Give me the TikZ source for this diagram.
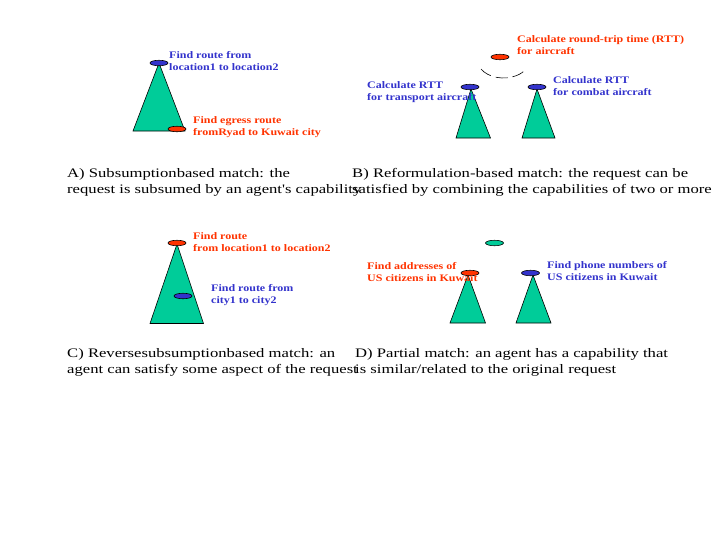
\documentclass[tikz,border=0pt]{standalone}
\usepackage{fontspec}
\setmainfont{Liberation Serif}
\newfontfamily\capfont[FakeStretch=1.28]{Liberation Serif}
\newfontfamily\lblfont[FakeStretch=1.2]{Liberation Serif}
\usetikzlibrary{shapes.geometric}
\definecolor{conegreen}{RGB}{0,204,153}
\definecolor{capblue}{RGB}{51,51,204}
\definecolor{capred}{RGB}{255,51,0}

\begin{document}
\begin{tikzpicture}[
  x=1pt,y=-1pt,
  cone/.style   ={draw=black,fill=conegreen,line width=0.6pt},
  capab/.style  ={ellipse,draw=black,line width=0.6pt,inner sep=0pt,
                  minimum width=18pt,minimum height=5.5pt},
  lbl/.style    ={anchor=west,align=left,inner sep=0pt,
                  font=\lblfont\bfseries\fontsize{10}{12}\selectfont},
  caption/.style={anchor=west,align=left,inner sep=0pt,
                  font=\capfont\fontsize{13}{16}\selectfont}]
  \useasboundingbox (0,0) rectangle (719,539);

  % ===== A) subsumption =====
  \draw[cone] (159,63) -- (185,131) -- (133,131) -- cycle;
  \node[capab,fill=capblue] (reqA) at (159,63) {};
  \node[capab,fill=capred]  (agA)  at (177,129) {};
  \node[lbl,text=capblue] (lreqA) at (169,61.5) {Find route from\\location1 to location2};
  \node[lbl,text=capred]  (lagA)  at (193,127)  {Find egress route\\fromRyad to Kuwait city};
  \node[caption] (capA) at (67,182)
    {A) Subsumptionbased match: the\\request is subsumed by an agent's capability};

  % ===== B) reformulation =====
  \draw[cone] (471,89) -- (490.5,138) -- (456,138) -- cycle;
  \draw[cone] (537,89) -- (555,138) -- (522,138) -- cycle;
  \node[capab,fill=capred]  (reqB)  at (500,57) {};
  \node[capab,fill=capblue] (agB1)  at (470,87) {};
  \node[capab,fill=capblue] (agB2)  at (537,87) {};
  \coordinate (arcB) at (481,69);
  \draw[dash pattern=on 12pt off 5pt,line width=0.6pt] (arcB)
    arc[start angle=150,end angle=28,x radius=26,y radius=18];
  \node[lbl,text=capred]  (lreqB)  at (517,45) {Calculate round-trip time (RTT)\\for aircraft};
  \node[lbl,text=capblue] (lagB1)  at (367,91.7) {Calculate RTT\\for transport aircraft};
  \node[lbl,text=capblue] (lagB2)  at (553,86) {Calculate RTT\\for combat aircraft};
  \node[caption] (capB) at (352,182)
    {B) Reformulation-based match: the request can be\\satisfied by combining the capabilities of two or more};

  % ===== C) reverse subsumption =====
  \draw[cone] (177,244) -- (203.5,323.5) -- (150,323.5) -- cycle;
  \node[capab,fill=capred]  (reqC) at (177,243) {};
  \node[capab,fill=capblue] (agC)  at (183,296) {};
  \node[lbl,text=capred]  (lreqC) at (193,241.7) {Find route\\from location1 to location2};
  \node[lbl,text=capblue] (lagC)  at (211,295.3) {Find route from\\city1 to city2};
  \node[caption] (capC) at (67,362)
    {C) Reversesubsumptionbased match: an\\agent can satisfy some aspect of the request};

  % ===== D) partial =====
  \draw[cone] (468,275) -- (485.5,323) -- (450,323) -- cycle;
  \draw[cone] (533,275) -- (551,323) -- (516,323) -- cycle;
  \node[capab,fill=conegreen] (reqD)  at (494.5,243) {};
  \node[capab,fill=capred]    (agD1)  at (470,273) {};
  \node[capab,fill=capblue]   (agD2)  at (530.5,273) {};
  \node[lbl,text=capred]  (lagD1) at (367,271.8) {Find addresses of\\US citizens in Kuwait};
  \node[lbl,text=capblue] (lagD2) at (547,271.3) {Find phone numbers of\\US citizens in Kuwait};
  \node[caption] (capD) at (355,362)
    {D) Partial match: an agent has a capability that\\is similar/related to the original request};

\end{tikzpicture}
\end{document}
